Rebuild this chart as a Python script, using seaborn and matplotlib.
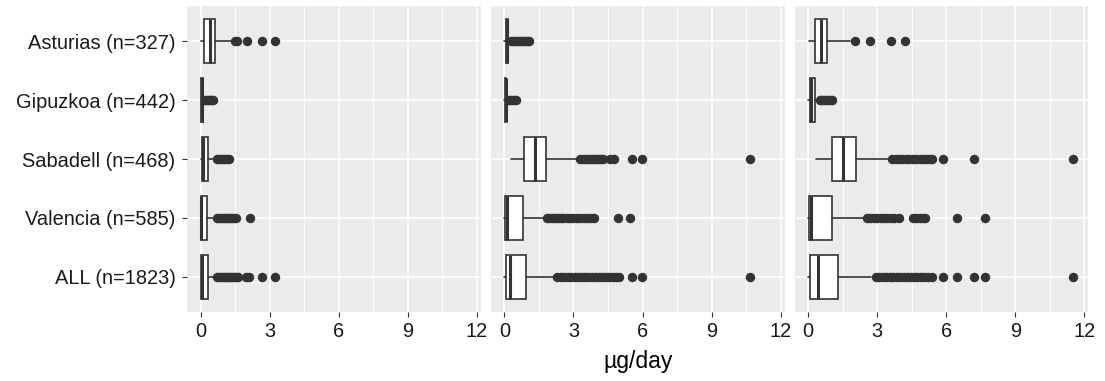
import matplotlib
matplotlib.use("Agg")
import matplotlib.pyplot as plt
from matplotlib.ticker import MultipleLocator
import seaborn as sns

# categories, top to bottom
groups = ["Asturias (n=327)", "Gipuzkoa (n=442)", "Sabadell (n=468)",
          "Valencia (n=585)", "ALL (n=1823)"]

# left panel: box summaries
a_lo = [0.0, 0.0, 0.0, 0.0, 0.0]
a_q1 = [0.16, 0.02, 0.07, 0.0, 0.01]
a_med = [0.39, 0.06, 0.11, 0.01, 0.06]
a_q3 = [0.62, 0.1, 0.32, 0.27, 0.33]
a_hi = [1.3, 0.18, 0.58, 0.58, 0.62]
a_out = [
    [1.5, 1.58, 2.0, 2.65, 3.23],
    [0.2, 0.27, 0.34, 0.41, 0.48, 0.55],
    [0.72, 0.8, 0.88, 0.96, 1.05, 1.13, 1.22],
    [0.72, 0.8, 0.88, 0.96, 1.04, 1.12, 1.2, 1.28, 1.36, 1.44, 1.52, 2.14],
    [0.72, 0.8, 0.88, 0.96, 1.04, 1.12, 1.2, 1.28, 1.36, 1.44, 1.52, 1.6,
     1.98, 2.1, 2.65, 3.23],
]

# middle panel
b_lo = [0.0, 0.0, 0.29, 0.0, 0.0]
b_q1 = [0.06, 0.02, 0.84, 0.04, 0.07]
b_med = [0.1, 0.05, 1.34, 0.1, 0.23]
b_q3 = [0.14, 0.08, 1.79, 0.79, 0.92]
b_hi = [0.25, 0.18, 3.2, 1.7, 2.14]
b_out = [
    [0.3, 0.38, 0.46, 0.54, 0.62, 0.7, 0.78, 0.86, 0.94, 1.02, 1.08],
    [0.2, 0.28, 0.36, 0.44, 0.52],
    [3.3, 3.4, 3.5, 3.6, 3.7, 3.8, 3.9, 4.0, 4.1, 4.2, 4.3, 4.6, 4.75,
     5.53, 5.99, 10.65],
    [1.85, 1.95, 2.05, 2.15, 2.25, 2.35, 2.45, 2.55, 2.7, 2.85, 3.0, 3.15,
     3.3, 3.45, 3.6, 3.75, 3.9, 4.95, 5.45],
    [2.3, 2.45, 2.6, 2.75, 2.9, 3.05, 3.2, 3.35, 3.5, 3.65, 3.8, 3.95, 4.1,
     4.25, 4.4, 4.55, 4.7, 4.85, 4.96, 5.53, 5.99, 10.65],
]

# right panel
c_lo = [0.04, 0.0, 0.33, 0.0, 0.0]
c_q1 = [0.32, 0.08, 1.04, 0.04, 0.1]
c_med = [0.57, 0.14, 1.52, 0.12, 0.41]
c_q3 = [0.84, 0.3, 2.07, 1.06, 1.28]
c_hi = [1.8, 0.45, 3.55, 2.39, 2.75]
c_out = [
    [2.03, 2.71, 3.59, 4.23],
    [0.5, 0.58, 0.66, 0.74, 0.82, 0.9, 0.98, 1.06],
    [3.65, 3.8, 3.95, 4.1, 4.25, 4.4, 4.55, 4.7, 4.85, 5.0, 5.15, 5.3,
     5.38, 5.87, 7.2, 11.52],
    [2.55, 2.7, 2.85, 3.0, 3.15, 3.3, 3.45, 3.6, 3.75, 3.93, 4.55, 4.7,
     4.85, 5.0, 5.09, 6.48, 7.7],
    [2.96, 3.1, 3.25, 3.4, 3.55, 3.7, 3.85, 4.0, 4.15, 4.3, 4.45, 4.6,
     4.75, 4.9, 5.05, 5.2, 5.38, 5.87, 6.48, 7.22, 7.7, 11.52],
]

x_ticks = [0, 3, 6, 9, 12]

sns.set_theme(style="darkgrid", rc={
    "axes.facecolor": "#EBEBEB",
    "grid.color": "white",
    "axes.edgecolor": "none",
})
plt.rcParams["font.family"] = ["Liberation Sans", "DejaVu Sans"]

dark = "#333333"

fig, axes = plt.subplots(1, 3, figsize=(11.05, 3.81), dpi=100)
fig.subplots_adjust(left=0.1696, right=0.985, bottom=0.181, top=0.984, wspace=0.034)

panels = [
    (a_lo, a_q1, a_med, a_q3, a_hi, a_out),
    (b_lo, b_q1, b_med, b_q3, b_hi, b_out),
    (c_lo, c_q1, c_med, c_q3, c_hi, c_out),
]

for i, (ax, (lo, q1, med, q3, hi, out)) in enumerate(zip(axes, panels)):
    stats = []
    for j, g in enumerate(groups):
        stats.append({"label": g, "whislo": lo[j], "q1": q1[j], "med": med[j],
                      "q3": q3[j], "whishi": hi[j], "fliers": out[j]})
    ax.bxp(stats, positions=range(1, len(groups) + 1), widths=0.75,
           orientation="horizontal", patch_artist=True, showcaps=False,
           boxprops=dict(facecolor="white", edgecolor=dark, linewidth=1.2),
           medianprops=dict(color=dark, linewidth=2.2),
           whiskerprops=dict(color=dark, linewidth=1.2),
           flierprops=dict(marker="o", markerfacecolor=dark,
                           markeredgecolor="none", markersize=6.8))

    ax.set_xlim(-0.58, 12.18)
    ax.set_ylim(len(groups) + 0.6, 0.4)
    ax.set_xticks(x_ticks)
    ax.set_xticklabels([str(t) for t in x_ticks])
    ax.xaxis.set_minor_locator(MultipleLocator(1.5))
    ax.set_axisbelow(True)
    ax.grid(which="major", color="white", linewidth=1.2)
    ax.grid(which="minor", axis="x", color="white", linewidth=0.6)
    ax.tick_params(axis="x", which="major", bottom=True, length=3.5, width=0.8,
                   color=dark, pad=3.5, labelsize=14.4, labelcolor="#1a1a1a")
    ax.tick_params(which="minor", length=0)
    if i == 0:
        ax.tick_params(axis="y", left=True, length=3.5, width=0.8, color=dark,
                       pad=5, labelsize=14.4, labelcolor="#1a1a1a")
    else:
        ax.tick_params(axis="y", left=False, labelleft=False)
    for s in ax.spines.values():
        s.set_visible(False)

fig.text(638 / 1105, 0.034, "µg/day", ha="center", va="baseline",
         fontsize=16.5, color="black")

fig.savefig("out.png", dpi=100)
